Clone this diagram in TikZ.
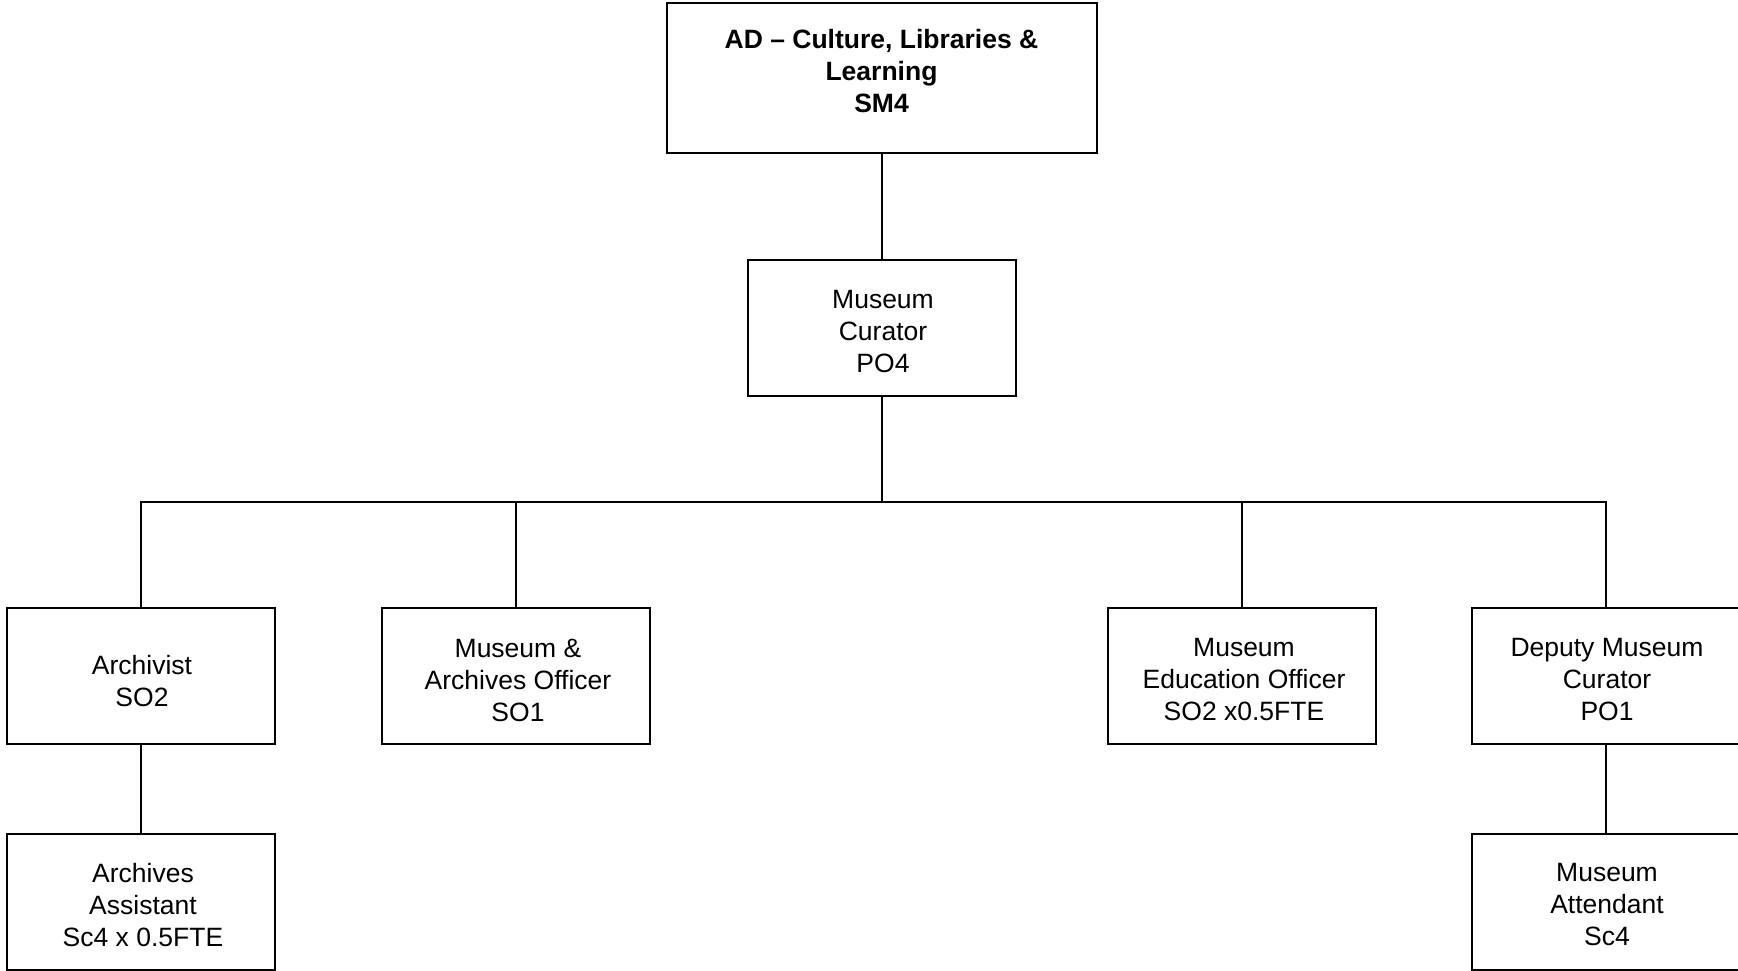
\documentclass[tikz,border=0pt]{standalone}
\usepackage{fontspec}
\setmainfont{Liberation Sans}
\begin{document}
\begin{tikzpicture}[x=1pt,y=-1pt,
  every node/.style={font=\fontsize{26.5}{32}\selectfont},
  box/.style={draw=black,line width=2pt,rectangle,inner sep=0pt,
    minimum width=268pt,minimum height=136pt},
  txt/.style={align=center,inner sep=0pt},
  conn/.style={draw=black,line width=2pt}]
\useasboundingbox (0,0) rectangle (1738,971);
% boxes
\node[box,minimum width=430pt,minimum height=150pt] (ad) at (882,78) {};
\node[txt,font=\fontsize{26.5}{32}\selectfont\bfseries] (adtxt) at (881.5,71) {AD -- Culture, Libraries \&\\Learning\\SM4};
\node[box] (cur) at (882,328) {};
\node[txt] (curtxt) at (883,332) {Museum\\Curator\\PO4};
\node[box] (arch) at (141,676) {};
\node[txt] (archtxt) at (142,681) {Archivist\\SO2};
\node[box] (mao) at (516,676) {};
\node[txt] (maotxt) at (518,680) {Museum \&\\Archives Officer\\SO1};
\node[box] (edu) at (1242,676) {};
\node[txt] (edutxt) at (1244,680) {Museum\\Education Officer\\SO2 x0.5FTE};
\node[box] (dep) at (1606,676) {};
\node[txt] (deptxt) at (1607,680) {Deputy Museum\\Curator\\PO1};
\node[box] (asst) at (141,902) {};
\node[txt] (assttxt) at (143,905) {Archives\\Assistant\\Sc4 x 0.5FTE};
\node[box] (att) at (1606,902) {};
\node[txt] (atttxt) at (1607,905) {Museum\\Attendant\\Sc4};
% connectors
\coordinate (bus) at (882,502);
\draw[conn] (ad.south) -- (cur.north);
\draw[conn] (cur.south) -- (bus);
\draw[conn] (bus) -| (arch.north);
\draw[conn] (bus) -| (mao.north);
\draw[conn] (bus) -| (edu.north);
\draw[conn] (bus) -| (dep.north);
\draw[conn] (arch.south) -- (asst.north);
\draw[conn] (dep.south) -- (att.north);
\end{tikzpicture}
\end{document}
